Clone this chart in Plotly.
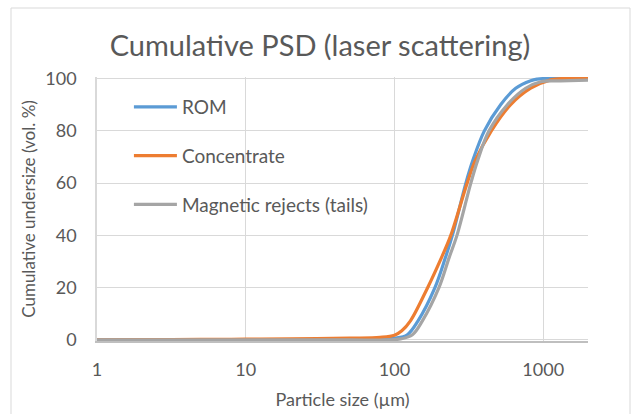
import plotly.graph_objects as go

# Cumulative undersize (vol. %) against particle size (µm), one set per stream
rom_size = [1, 10, 50, 80, 100, 122, 144, 187, 220, 245, 302, 336, 402, 517, 653, 824, 914, 1000, 2000]
rom_pct = [0, 0, 0, 0.1, 0.6, 2, 7.3, 20, 31.5, 40, 60, 68.6, 80, 90, 96.3, 99.2, 99.8, 100, 100]

conc_size = [1, 2, 5, 10, 20, 50, 80, 100, 112, 128, 167, 207, 239, 308, 349, 448, 604, 824, 1122, 1400, 2000]
conc_pct = [0, 0.1, 0.2, 0.3, 0.4, 0.7, 1.0, 1.8, 3.5, 7.3, 20, 31.5, 40, 60, 68.6, 80, 90, 96.3, 99.5, 100, 100]

tails_size = [1, 10, 50, 90, 110, 132, 154, 199, 233, 263, 326, 362, 432, 574, 762, 962, 1300, 2000]
tails_pct = [0, 0, 0, 0, 0.4, 2, 7.3, 20, 31.5, 40, 60, 68.6, 80, 90, 96.3, 98.8, 99.1, 99.4]

series = [
    ("ROM", rom_size, rom_pct, "#5B9BD5"),
    ("Concentrate", conc_size, conc_pct, "#ED7D31"),
    ("Magnetic rejects (tails)", tails_size, tails_pct, "#A5A5A5"),
]

FONT = "Lato"
TEXT = "#595959"
GRID = "#D9D9D9"

fig = go.Figure()
for i, (name, xs, ys, color) in enumerate(series):
    fig.add_trace(go.Scatter(
        x=xs, y=ys, name=name, mode="lines",
        line=dict(color=color, width=3.2, shape="spline", smoothing=1.0),
        legendgroup=f"g{i}",
    ))

fig.update_layout(
    width=633, height=414,
    margin=dict(l=97, r=45, t=77, b=73, autoexpand=False),
    paper_bgcolor="white", plot_bgcolor="white",
    font=dict(family=FONT, color=TEXT),
    title=dict(text="Cumulative PSD (laser scattering)", x=320 / 633, xanchor="center",
               y=1 - 46 / 414, yanchor="middle",
               font=dict(family=FONT, size=29, color=TEXT)),
    showlegend=True,
    legend=dict(x=0.065, y=0.958, xanchor="left", yanchor="top",
                bgcolor="rgba(0,0,0,0)", traceorder="grouped",
                tracegroupgap=21, itemwidth=43,
                font=dict(family=FONT, size=19, color=TEXT)),
    xaxis=dict(type="log", range=[0, 3.30103], automargin=False,
               tickvals=[1, 10, 100, 1000], ticktext=["1", "10", "100", "1000"],
               showgrid=True, gridcolor=GRID, gridwidth=1,
               showline=True, linecolor="#BFBFBF", linewidth=2,
               ticks="", ticklen=0, ticklabelstandoff=11,
               tickfont=dict(family=FONT, size=18, color=TEXT),
               title=dict(text="Particle size (µm)", standoff=15,
                          font=dict(family=FONT, size=18, color=TEXT))),
    yaxis=dict(range=[-0.4, 100.6], tickvals=[0, 20, 40, 60, 80, 100], automargin=False,
               showgrid=True, gridcolor=GRID, gridwidth=1, zeroline=False,
               showline=True, linecolor="#D9D9D9", linewidth=1.5,
               ticks="", ticklen=0, ticklabelstandoff=15,
               tickfont=dict(family=FONT, size=18, color=TEXT),
               title=dict(text="Cumulative undersize (vol. %)", standoff=5,
                          font=dict(family=FONT, size=17, color=TEXT))),
)

# light frame around the whole chart
fig.add_shape(type="rect", xref="paper", yref="paper",
              x0=(11 - 97) / 491, x1=(630 - 97) / 491,
              y0=-0.4, y1=(341 - 8) / 264,
              line=dict(color="#D9D9D9", width=1), fillcolor="rgba(0,0,0,0)",
              layer="below")

fig.write_html("out.html")
